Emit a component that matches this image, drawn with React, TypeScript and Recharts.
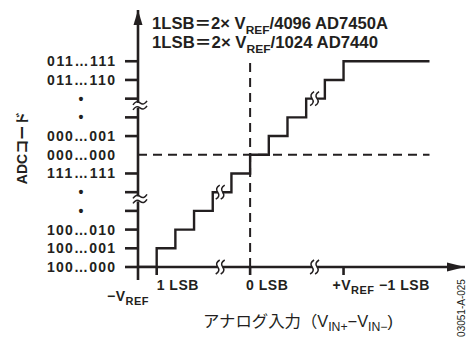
import { Customized, Line, LineChart, ReferenceDot, ReferenceLine, XAxis, YAxis } from 'recharts';

// staircase: analog input (in LSB steps from -VREF) -> output code index
const inputLsb = [0, 1, 2, 3, 4, 5, 6, 7, 8, 9, 10, 11, 15.6];
const outputCode = [0, 1, 2, 3, 4, 5, 6, 7, 8, 9, 10, 11, 11];

const codeTicks = [0, 1, 2, 3, 4, 5, 6, 7, 8, 9, 10, 11];
const codeLabels = ['100…000', '100…001', '100…010', '•', '•', '111…111', '000…000', '000…001', '•', '•', '011…110', '011…111'];
const inputTicks = [0, 1, 6, 11];
const inputLabels = ['−V_{REF}', '1 LSB', '0 LSB', '+V_{REF} −1 LSB'];

const zeroCode = 6;
const zeroInput = 6;
const dashEnd = 15.6;
const stairBreaks = [4.4, 9.45];
const yAxisBreaks = [3.64, 8.64];
const noteLines = ['1LSB＝2× V_{REF}/4096 AD7450A', '1LSB＝2× V_{REF}/1024 AD7440'];
const xTitle = 'アナログ入力（V_{IN+}−V_{IN−})';
const yTitle = 'ADCコード';
const figId = '03051-A-025';

const X_MAX = 17.5;
const Y_MAX = 13.74;
const INK = '#231f20';
const FONT = '"Liberation Sans", Arial, Helvetica, "Noto Sans CJK JP", sans-serif';

const data = inputLsb.map((x, i) => ({ x, code: outputCode[i] }));

// "V_{REF}" -> tspans with a lowered, smaller subscript
function rich(text: string, subSize: number, shift: number) {
  const parts = text.split(/(_\{[^}]*\})/).filter(Boolean);
  let prevSub = false;
  return parts.map((p, i) => {
    const sub = p.startsWith('_{');
    const dy = sub ? shift : prevSub ? -shift : 0;
    prevSub = sub;
    return (
      <tspan key={i} dy={dy || undefined} fontSize={sub ? subSize : undefined}>
        {sub ? p.slice(2, -1) : p}
      </tspan>
    );
  });
}

function CodeTick({ x, y, index }: any) {
  const label = codeLabels[index];
  const dot = label === '•';
  return (
    <g>
      {index !== zeroCode && <line x1={x - 13} x2={x} y1={y} y2={y} stroke={INK} strokeWidth={2.6} />}
      <text
        x={dot ? x - 57 : x - 23}
        y={y}
        textAnchor={dot ? 'middle' : 'end'}
        dominantBaseline="central"
        fontFamily={FONT}
        fontWeight="bold"
        fontSize={14}
        textLength={dot ? undefined : 68}
        lengthAdjust="spacing"
        fill={INK}
      >
        {label}
      </text>
    </g>
  );
}

// per-tick label placement relative to the tick mark
const xLabelPos = [
  { dx: -10, dy: 34, anchor: 'middle', len: 13 },
  { dx: 0, dy: 23, anchor: 'start', len: 8 },
  { dx: -4, dy: 23, anchor: 'start', len: 8 },
  { dx: -11, dy: 23, anchor: 'start', len: 8 },
];

function InputTick({ x, y, index }: any) {
  const p = xLabelPos[index];
  return (
    <g>
      <line x1={x} x2={x} y1={y} y2={y + p.len} stroke={INK} strokeWidth={2.6} />
      <text
        x={x + p.dx}
        y={y + p.dy}
        textAnchor={p.anchor}
        fontFamily={FONT}
        fontWeight="bold"
        fontSize={14}
        style={{ letterSpacing: '0.5px' }}
        fill={INK}
      >
        {rich(inputLabels[index], 11, 4)}
      </text>
    </g>
  );
}

function BreakOnHorizontal({ cx, cy }: any) {
  const s = (x: number) => `M${x + 2},${cy - 7} Q${x - 3},${cy - 4} ${x},${cy} Q${x + 3},${cy + 4} ${x - 2},${cy + 7}`;
  return (
    <g>
      <rect x={cx - 2.5} y={cy - 3} width={5} height={6} fill="#fff" />
      <path d={s(cx - 2.5)} fill="none" stroke={INK} strokeWidth={1.5} />
      <path d={s(cx + 2.5)} fill="none" stroke={INK} strokeWidth={1.5} />
    </g>
  );
}

function BreakOnVertical({ cx, cy }: any) {
  const c = cx + 2;
  const t = (y: number) => `M${c - 7},${y + 2} Q${c - 4},${y - 3} ${c},${y} Q${c + 4},${y + 3} ${c + 7},${y - 2}`;
  return (
    <g>
      <rect x={cx - 3} y={cy - 2.5} width={6} height={5} fill="#fff" />
      <path d={t(cy - 2.5)} fill="none" stroke={INK} strokeWidth={1.5} />
      <path d={t(cy + 2.5)} fill="none" stroke={INK} strokeWidth={1.5} />
    </g>
  );
}

const ArrowRight = ({ cx, cy }: any) => (
  <path d={`M${cx},${cy} L${cx - 18},${cy - 4.5} L${cx - 18},${cy + 4.5} Z`} fill={INK} />
);
const ArrowUp = ({ cx, cy }: any) => (
  <path d={`M${cx},${cy} L${cx - 4.5},${cy + 15} L${cx + 4.5},${cy + 15} Z`} fill={INK} />
);

const noteWidths = [236, 226];

function Annotations() {
  return (
    <g fontFamily={FONT} fill={INK}>
      {noteLines.map((t, i) => (
        <text
          key={i}
          x={152}
          y={29 + i * 19}
          fontSize={16}
          fontWeight="bold"
          textLength={noteWidths[i]}
          lengthAdjust="spacingAndGlyphs"
        >
          {rich(t, 11.5, 5)}
        </text>
      ))}
      <text
        x={22}
        y={148}
        transform="rotate(-90 22 148)"
        textAnchor="middle"
        dominantBaseline="central"
        fontSize={14}
        fontWeight="bold"
      >
        {yTitle}
      </text>
      <text x={203} y={327} fontSize={16} textLength={190} lengthAdjust="spacingAndGlyphs">
        {rich(xTitle, 12, 4)}
      </text>
      <text x={461} y={308} transform="rotate(-90 461 308)" textAnchor="middle" dominantBaseline="central" fontSize={10}>
        {figId}
      </text>
    </g>
  );
}

export default function App() {
  return (
    <div style={{ position: 'absolute', left: 0, top: 0, background: '#fff' }}>
      <LineChart width={468} height={339} data={data} margin={{ top: 10, right: 3, bottom: 0, left: 0 }}>
        <XAxis
          type="number"
          dataKey="x"
          domain={[0, X_MAX]}
          allowDataOverflow
          ticks={inputTicks}
          interval={0}
          height={72}
          tickSize={0}
          tickMargin={0}
          tickLine={false}
          axisLine={{ stroke: INK, strokeWidth: 2.6 }}
          tick={<InputTick />}
        />
        <YAxis
          type="number"
          domain={[0, Y_MAX]}
          allowDataOverflow
          ticks={codeTicks}
          interval={0}
          width={138}
          tickSize={0}
          tickMargin={0}
          tickLine={false}
          axisLine={{ stroke: INK, strokeWidth: 2.6 }}
          tick={<CodeTick />}
        />
        <ReferenceLine
          segment={[{ x: 0, y: zeroCode }, { x: dashEnd, y: zeroCode }]}
          stroke={INK}
          strokeWidth={2}
          strokeDasharray="9 6"
          ifOverflow="visible"
        />
        <ReferenceLine
          segment={[{ x: zeroInput, y: 0 }, { x: zeroInput, y: 11.2 }]}
          stroke={INK}
          strokeWidth={2}
          strokeDasharray="9 6"
          ifOverflow="visible"
        />
        <Line type="stepAfter" dataKey="code" stroke={INK} strokeWidth={2.4} dot={false} isAnimationActive={false} />
        {stairBreaks.map((b) => (
          <ReferenceDot key={`s${b}`} x={b} y={Math.floor(b)} ifOverflow="visible" shape={<BreakOnHorizontal />} />
        ))}
        {stairBreaks.map((b) => (
          <ReferenceDot key={`a${b}`} x={b} y={0} ifOverflow="visible" shape={<BreakOnHorizontal />} />
        ))}
        {yAxisBreaks.map((b) => (
          <ReferenceDot key={`y${b}`} x={0} y={b} ifOverflow="visible" shape={<BreakOnVertical />} />
        ))}
        <ReferenceDot x={X_MAX} y={0} ifOverflow="visible" shape={<ArrowRight />} />
        <ReferenceDot x={0} y={Y_MAX} ifOverflow="visible" shape={<ArrowUp />} />
        <Customized component={<Annotations />} />
      </LineChart>
    </div>
  );
}
